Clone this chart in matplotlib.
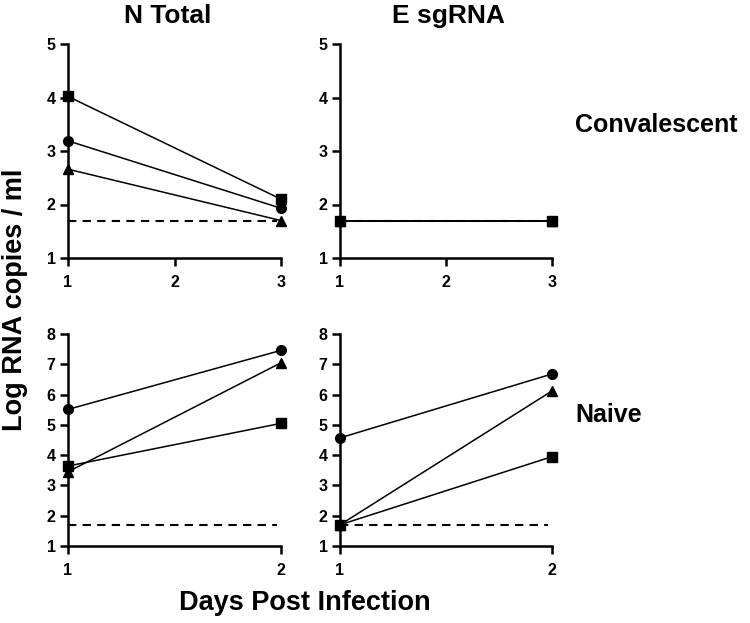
import matplotlib
matplotlib.use('Agg')
import matplotlib.pyplot as plt

plt.rcParams['font.family'] = ['Liberation Sans', 'DejaVu Sans']
plt.rcParams['font.weight'] = 'bold'

# values
conv_days = [1, 3]
naive_days = [1, 2]
markers = ['s', 'o', '^']  # animal 1, 2, 3

conv_n_total = [[4.02, 2.10], [3.19, 1.93], [2.66, 1.70]]
conv_e_sgrna = [[1.70, 1.70], [1.70, 1.70], [1.70, 1.70]]
naive_n_total = [[3.64, 5.05], [5.51, 7.46], [3.45, 7.05]]
naive_e_sgrna = [[1.70, 3.95], [4.57, 6.68], [1.70, 6.12]]

lod = 1.7

col_titles = ['N Total', 'E sgRNA']
row_titles = ['Convalescent', 'Naive']

fig = plt.figure(figsize=(7.5, 6.23), dpi=100)

W = 750.0
H = 623.0
lefts = [68, 340]
widths = [213, 212]
tops = [44, 334]
heights = [214, 212]
title_x = [168, 448]

panels = [
    (0, 0, conv_days, conv_n_total, [1, 2, 3, 4, 5]),
    (0, 1, conv_days, conv_e_sgrna, [1, 2, 3, 4, 5]),
    (1, 0, naive_days, naive_n_total, [1, 2, 3, 4, 5, 6, 7, 8]),
    (1, 1, naive_days, naive_e_sgrna, [1, 2, 3, 4, 5, 6, 7, 8]),
]

for r, c, days, vals, yticks in panels:
    ax = fig.add_axes([lefts[c] / W, 1 - (tops[r] + heights[r]) / H,
                       widths[c] / W, heights[r] / H])
    ax.plot([days[0], days[-1] - 0.02 * (days[-1] - days[0])], [lod, lod],
            ls=(0, (4, 3)), color='black', lw=1.5, zorder=1)
    for m, v in zip(markers, vals):
        ax.plot(days, v, color='black', lw=1.1, marker=m, ms=7,
                clip_on=False, zorder=3)
    ax.set_xlim(days[0], days[-1])
    ax.set_ylim(yticks[0], yticks[-1])
    ax.set_xticks(list(range(days[0], days[-1] + 1)))
    ax.set_yticks(yticks)
    for s in ['top', 'right']:
        ax.spines[s].set_visible(False)
    for s in ['left', 'bottom']:
        ax.spines[s].set_linewidth(1.8)
    ax.tick_params(width=1.8, length=6, labelsize=11.5)
    ax.tick_params(axis='x', pad=6)
    ax.tick_params(axis='y', pad=3)
    for lab in ax.get_xticklabels() + ax.get_yticklabels():
        lab.set_fontweight('bold')

for c in range(2):
    fig.text(title_x[c] / W, 1 - 16 / H, col_titles[c], fontsize=19,
             fontweight='bold', ha='center', va='center')

fig.text(575 / W, 1 - 125 / H, row_titles[0], fontsize=18, fontweight='bold',
         ha='left', va='center')
fig.text(575 / W, 1 - 415 / H, row_titles[1], fontsize=18, fontweight='bold',
         ha='left', va='center')
fig.text(305 / W, 1 - 603 / H, 'Days Post Infection', fontsize=19.5,
         fontweight='bold', ha='center', va='center')
fig.text(15 / W, 1 - 300 / H, 'Log RNA copies / ml', fontsize=19.5,
         fontweight='bold', ha='center', va='center', rotation=90)

fig.savefig('out.png', dpi=100)
